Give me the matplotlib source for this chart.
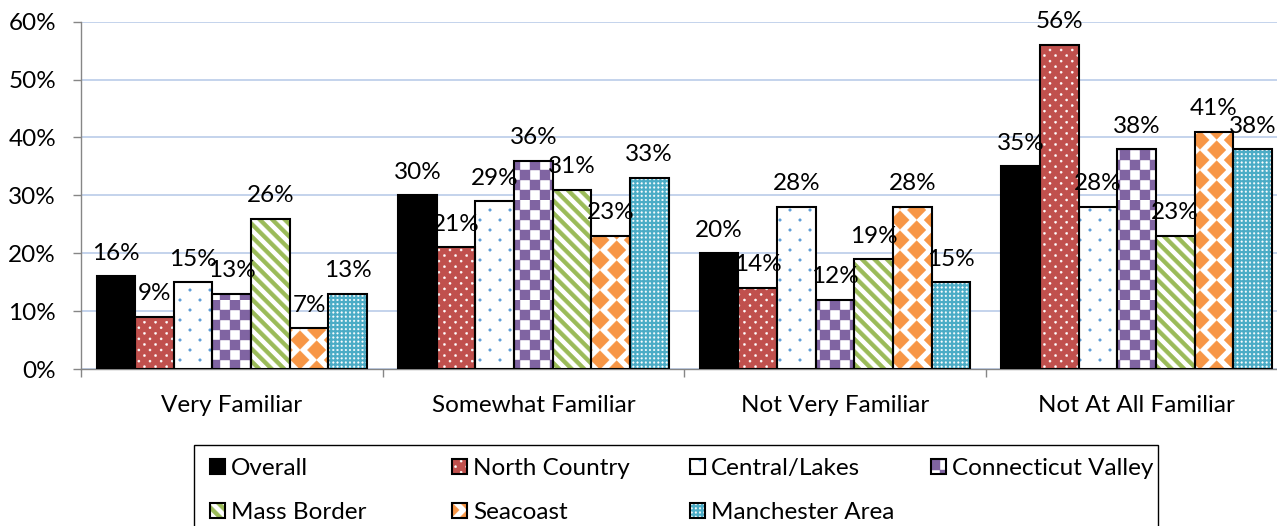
import warnings
import numpy as np
import matplotlib
matplotlib.use('Agg')
import matplotlib.pyplot as plt
import matplotlib.hatch as mhatch
from matplotlib.path import Path
from matplotlib.patches import Rectangle

warnings.filterwarnings('ignore')

# data (percent)
categories = ['Very Familiar', 'Somewhat Familiar', 'Not Very Familiar', 'Not At All Familiar']
regions = ['Overall', 'North Country', 'Central/Lakes', 'Connecticut Valley',
           'Mass Border', 'Seacoast', 'Manchester Area']
overall = [16, 30, 20, 35]
north_country = [9, 21, 14, 56]
central_lakes = [15, 29, 28, 28]
connecticut_valley = [13, 36, 12, 38]
mass_border = [26, 31, 19, 23]
seacoast = [7, 23, 28, 41]
manchester = [13, 33, 15, 38]
series = [overall, north_country, central_lakes, connecticut_valley,
          mass_border, seacoast, manchester]
yticks = [0, 10, 20, 30, 40, 50, 60]

# face colour, pattern colour, pattern code
styles = [('black', 'black', None),
          ('#C0504D', 'white', 'p'),
          ('white', '#5B9BD5', 'q'),
          ('white', '#8064A2', 'c'),
          ('white', '#9BBB59', 's'),
          ('white', '#F79646', 'd'),
          ('#4BACC6', 'white', 'm')]


# Excel-like fill patterns as extra hatch types (unit tile, filled shapes)
def circle(cx, cy, r, k=10):
    t = np.linspace(0, 2 * np.pi, k, endpoint=False)
    return list(zip(cx + r * np.cos(t), cy + r * np.sin(t)))


def stagger_dots(n, r):
    out = []
    for row in range(2 * n + 1):
        y = row / (2 * n)
        if row % 2 == 0:
            out += [circle(i / n, y, r) for i in range(n + 1)]
        else:
            out += [circle((i + 0.5) / n, y, r) for i in range(n)]
    return out


class ExcelPatterns(mhatch.HatchPatternBase):
    def __init__(self, hatch, density):
        shapes = []
        if 'p' in hatch:
            shapes += stagger_dots(9, 0.011)
        if 'q' in hatch:
            shapes += stagger_dots(5, 0.013)
        if 'm' in hatch:
            n = 24
            shapes += [circle(i / n, j / n, 0.009, 6)
                       for i in range(n + 1) for j in range(n + 1)]
        if 'c' in hatch:
            n = 10
            shapes += [[(i / n, j / n), ((i + 1) / n, j / n),
                        ((i + 1) / n, (j + 1) / n), (i / n, (j + 1) / n)]
                       for i in range(n) for j in range(n) if (i + j) % 2 == 0]
        if 's' in hatch:
            n, t = 8, 0.055
            for k in range(-1, 2 * n + 1):
                c = k / n
                shapes.append([(0, c), (1, c - 1), (1, c - 1 + t), (0, c + t)])
        if 'd' in hatch:
            nc, nr, a, b = 6, 5, 0.092, 0.093
            for i in range(nc + 1):
                ys = [j / nr for j in range(nr + 1)] if i % 2 == 0 else \
                     [(j + 0.5) / nr for j in range(nr)]
                cx = i / nc
                for cy in ys:
                    shapes.append([(cx - a, cy), (cx, cy - b), (cx + a, cy), (cx, cy + b)])
        self.verts, self.codes = [], []
        for s in shapes:
            self.verts += list(s) + [s[0]]
            self.codes += [Path.MOVETO] + [Path.LINETO] * (len(s) - 1) + [Path.CLOSEPOLY]
        self.num_vertices = len(self.verts)

    def set_vertices_and_codes(self, vertices, codes):
        vertices[:] = np.array(self.verts)
        codes[:] = self.codes


mhatch._hatch_types.append(ExcelPatterns)

plt.rcParams['font.family'] = ['Lato', 'DejaVu Sans']
plt.rcParams['hatch.linewidth'] = 0.3
fs = 17.5
W, H = 1277, 526

fig = plt.figure(figsize=(W / 100, H / 100), dpi=100)
ax = fig.add_axes([81 / W, 157 / H, 4 * 301.6 / W, 347.3 / H])

x = np.arange(len(categories))
width = 0.128
handles = []
for i, (vals, (face, pcol, pat)) in enumerate(zip(series, styles)):
    pos = x + (i - 3) * width
    filled = ax.bar(pos, vals, width, color=face, edgecolor=pcol, linewidth=0,
                    hatch=pat, zorder=2)
    outline = ax.bar(pos, vals, width, fill=False, edgecolor='black',
                     linewidth=1.5, zorder=3)
    for xp, v in zip(pos, vals):
        ax.annotate(f'{v}%', (xp, v), xytext=(0, 9), textcoords='offset points',
                    ha='center', va='bottom', fontsize=fs, zorder=6)
    handles.append((filled[0], outline[0]))

ax.set_xlim(-0.5, len(categories) - 0.5)
ax.set_ylim(0, 60)
ax.set_yticks(yticks)
ax.set_yticklabels([f'{v}%' for v in yticks], fontsize=fs)
ax.set_xticks(x)
ax.set_xticklabels(categories, fontsize=fs)
ax.set_xticks(np.arange(len(categories) + 1) - 0.5, minor=True)
ax.tick_params(axis='x', which='major', length=0, pad=19)
ax.tick_params(axis='x', which='minor', length=6, color='#868686', width=1)
ax.tick_params(axis='y', length=6, color='#868686', width=1, pad=12)
ax.yaxis.grid(True, color='#B4C7E7', linewidth=1.1)
ax.set_axisbelow(True)
for s in ['top', 'right']:
    ax.spines[s].set_visible(False)
for s in ['left', 'bottom']:
    ax.spines[s].set_color('#868686')
    ax.spines[s].set_linewidth(1)

# legend: one column per legend so columns sit at even spacing
col_x = [210, 452, 690, 931]
for j, cx in enumerate(col_x):
    idx = list(range(j, len(regions), 4))
    fig.legend([handles[k] for k in idx], [regions[k] for k in idx],
               loc='upper left', bbox_to_anchor=(cx / W, 1 - 458 / H),
               frameon=False, borderpad=0, borderaxespad=0, fontsize=fs,
               handlelength=0.62, handleheight=0.62, handletextpad=0.25,
               labelspacing=0.95)
fig.add_artist(Rectangle((194 / W, -0.1), (1158 - 194) / W, 81 / H + 0.1,
                         transform=fig.transFigure, fill=False,
                         edgecolor='black', linewidth=1))

fig.savefig('out.png', dpi=100)
